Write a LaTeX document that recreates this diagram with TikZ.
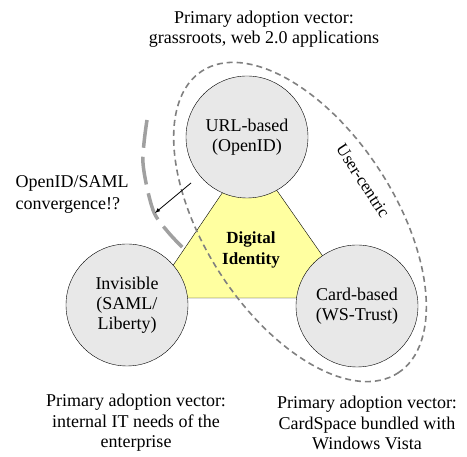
\documentclass[tikz,border=0pt]{standalone}
\usepackage{fontspec}
\setmainfont{Liberation Serif}
\usepackage{tikz}
\usetikzlibrary{calc,shapes,backgrounds}
\pgfdeclarelayer{background}
\pgfsetlayers{background,main}
\definecolor{circgray}{RGB}{232,232,232}
\definecolor{triyellow}{RGB}{255,255,160}
\definecolor{dashgray}{RGB}{128,128,128}
\definecolor{arcgray}{RGB}{160,160,160}
\tikzset{
  idcircle/.style={circle, draw=black, fill=circgray, minimum size=122pt, inner sep=0pt, align=center, font=\fontsize{18}{20}\selectfont},
  vectortext/.style={align=center, font=\fontsize{18}{20.5}\selectfont},
}
\begin{document}
\begin{tikzpicture}[x=1pt,y=1pt]% [scale=0.8]
\useasboundingbox (0,0) rectangle (467,457);

\node[idcircle] (url) at (247,320) {URL-based\\(OpenID)};
\node[idcircle] (invis) at (127,152) {Invisible\\(SAML/\\Liberty)};
\node[idcircle] (card) at (357,151) {Card-based\\(WS-Trust)};

\node[font=\bfseries\fontsize{17}{21}\selectfont, align=center] (digid) at (251,207) {Digital\\Identity};

% user-centric group
\draw[dashgray, dashed, line width=1.6pt, dash pattern=on 6pt off 4pt, rotate around={-57:(300,235)}] (300,235) ellipse (180 and 95);
\node[font=\fontsize{17}{20}\selectfont, rotate=-57] (usercen) at (363,276) {User-centric};

% convergence
\draw[arcgray, line width=3.5pt, dash pattern=on 28pt off 9pt] plot[smooth] coordinates {(147,337) (143,294) (153,247) (168,225) (186,206)};
\node[font=\fontsize{18}{22}\selectfont, align=left, anchor=west] (conv) at (12,263) {OpenID/SAML\\convergence!?};
\coordinate (convtail) at (191,274);
\coordinate (convtip) at (155,244);
\draw[-latex, line width=0.8pt] (convtail) -- (convtip);

\node[vectortext] (topvec) at (264,428) {Primary adoption vector:\\grassroots, web 2.0 applications};
\node[vectortext] (leftvec) at (136,34) {Primary adoption vector:\\internal IT needs of the\\enterprise};
\node[vectortext] (rightvec) at (367,34) {Primary adoption vector:\\CardSpace bundled with\\Windows Vista};

\begin{pgfonlayer}{background}
  \filldraw[fill=triyellow, draw=black] (151,159) -- (352,159) -- (250,305) -- cycle;
\end{pgfonlayer}
\end{tikzpicture}
\end{document}
